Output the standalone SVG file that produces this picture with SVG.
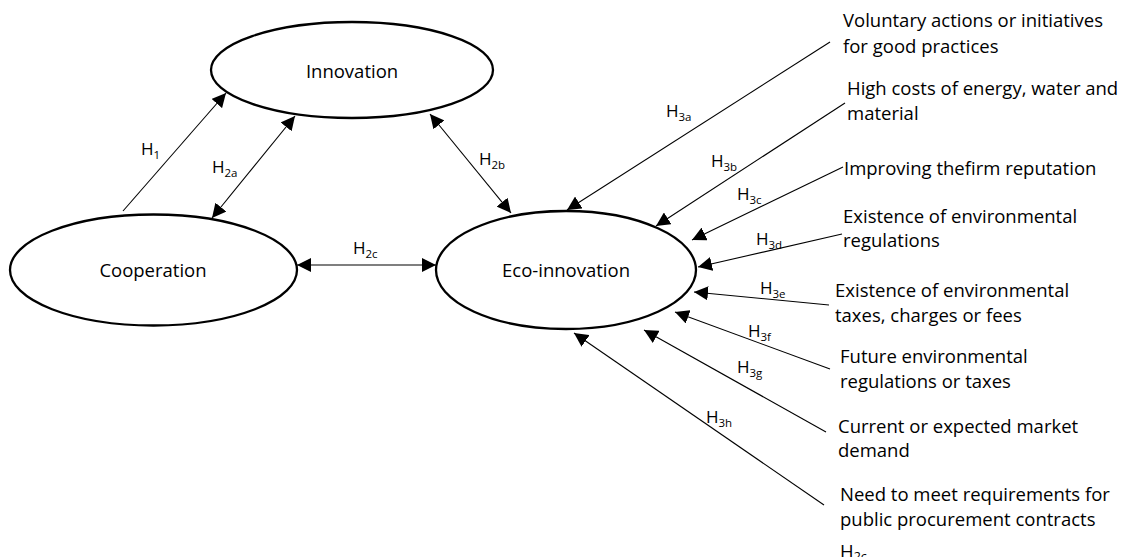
<svg xmlns="http://www.w3.org/2000/svg" width="1121" height="557" viewBox="0 0 1121 557">
<defs>
<marker id="arr" markerUnits="userSpaceOnUse" markerWidth="15" markerHeight="14" refX="14" refY="7" orient="auto-start-reverse" viewBox="0 0 15 14"><path d="M0,0 L14,7 L0,14 z" fill="#000"/></marker>
<style>
.node ellipse{fill:#fff;stroke:#000;stroke-width:2.3}
.lbl{font-family:"Open Sans","Liberation Sans",sans-serif;font-size:18.5px;fill:#000}
.c{text-anchor:middle}
#connectors line{stroke:#000;stroke-width:1.1;fill:none}
.one{marker-end:url(#arr)}
.two{marker-start:url(#arr);marker-end:url(#arr)}
.h{font-family:"Open Sans","Liberation Sans",sans-serif;font-size:17px;fill:#000}
.sub{font-size:11.5px}
</style>
</defs>
<rect width="1121" height="557" fill="#fff"/>
<g id="innovation" class="node">
<ellipse cx="352" cy="70" rx="141" ry="48"/>
<text class="lbl c" x="352" y="78">Innovation</text>
</g>
<g id="cooperation" class="node">
<ellipse cx="153.5" cy="270" rx="143.5" ry="55.5"/>
<text class="lbl c" x="153" y="277">Cooperation</text>
</g>
<g id="eco-innovation" class="node">
<ellipse cx="566" cy="270" rx="130" ry="59"/>
<text class="lbl c" x="566" y="277">Eco-innovation</text>
</g>
<g id="connectors">
<line class="one" x1="123" y1="211" x2="226" y2="93"/>
<line class="two" x1="212" y1="218" x2="295" y2="116"/>
<line class="two" x1="430" y1="114" x2="511" y2="213"/>
<line class="two" x1="297" y1="265" x2="436" y2="265"/>
<line class="one" x1="830" y1="42" x2="567" y2="210"/>
<line class="one" x1="845" y1="103" x2="656" y2="226"/>
<line class="one" x1="843" y1="167" x2="692" y2="240"/>
<line class="one" x1="842" y1="234" x2="698" y2="267"/>
<line class="one" x1="829" y1="305" x2="694" y2="292"/>
<line class="one" x1="830" y1="369" x2="675" y2="312"/>
<line class="one" x1="826" y1="432" x2="644" y2="330"/>
<line class="one" x1="824" y1="505" x2="574" y2="333"/>
</g>
<g id="edge-labels">
<text class="h" x="141" y="155">H<tspan class="sub" dy="4">1</tspan></text>
<text class="h" x="212" y="173">H<tspan class="sub" dy="4">2a</tspan></text>
<text class="h" x="479" y="165">H<tspan class="sub" dy="4">2b</tspan></text>
<text class="h" x="353" y="254">H<tspan class="sub" dy="4">2c</tspan></text>
<text class="h" x="666" y="117">H<tspan class="sub" dy="4">3a</tspan></text>
<text class="h" x="711" y="167">H<tspan class="sub" dy="4">3b</tspan></text>
<text class="h" x="737" y="200">H<tspan class="sub" dy="4">3c</tspan></text>
<text class="h" x="756" y="245">H<tspan class="sub" dy="4">3d</tspan></text>
<text class="h" x="760" y="294">H<tspan class="sub" dy="4">3e</tspan></text>
<text class="h" x="748" y="337">H<tspan class="sub" dy="4">3f</tspan></text>
<text class="h" x="737" y="373">H<tspan class="sub" dy="4">3g</tspan></text>
<text class="h" x="706" y="423">H<tspan class="sub" dy="4">3h</tspan></text>
</g>
<g id="factor-voluntary"><text class="lbl" x="843" y="27">Voluntary actions or initiatives</text><text class="lbl" x="843" y="53">for good practices</text></g>
<g id="factor-costs"><text class="lbl" x="847" y="95">High costs of energy, water and</text><text class="lbl" x="847" y="120">material</text></g>
<g id="factor-reputation"><text class="lbl" x="844" y="175">Improving thefirm reputation</text></g>
<g id="factor-regulations"><text class="lbl" x="843" y="223">Existence of environmental</text><text class="lbl" x="843" y="247">regulations</text></g>
<g id="factor-taxes"><text class="lbl" x="835" y="297">Existence of environmental</text><text class="lbl" x="835" y="322">taxes, charges or fees</text></g>
<g id="factor-future"><text class="lbl" x="840" y="363">Future environmental</text><text class="lbl" x="840" y="388">regulations or taxes</text></g>
<g id="factor-demand"><text class="lbl" x="838" y="433">Current or expected market</text><text class="lbl" x="838" y="457">demand</text></g>
<g id="factor-procurement"><text class="lbl" x="840" y="501">Need to meet requirements for</text><text class="lbl" x="840" y="526">public procurement contracts</text><text class="h" x="840" y="558" style="font-size:18.5px">H<tspan class="sub" dy="3" style="font-size:12.5px">2c</tspan></text></g>
</svg>
